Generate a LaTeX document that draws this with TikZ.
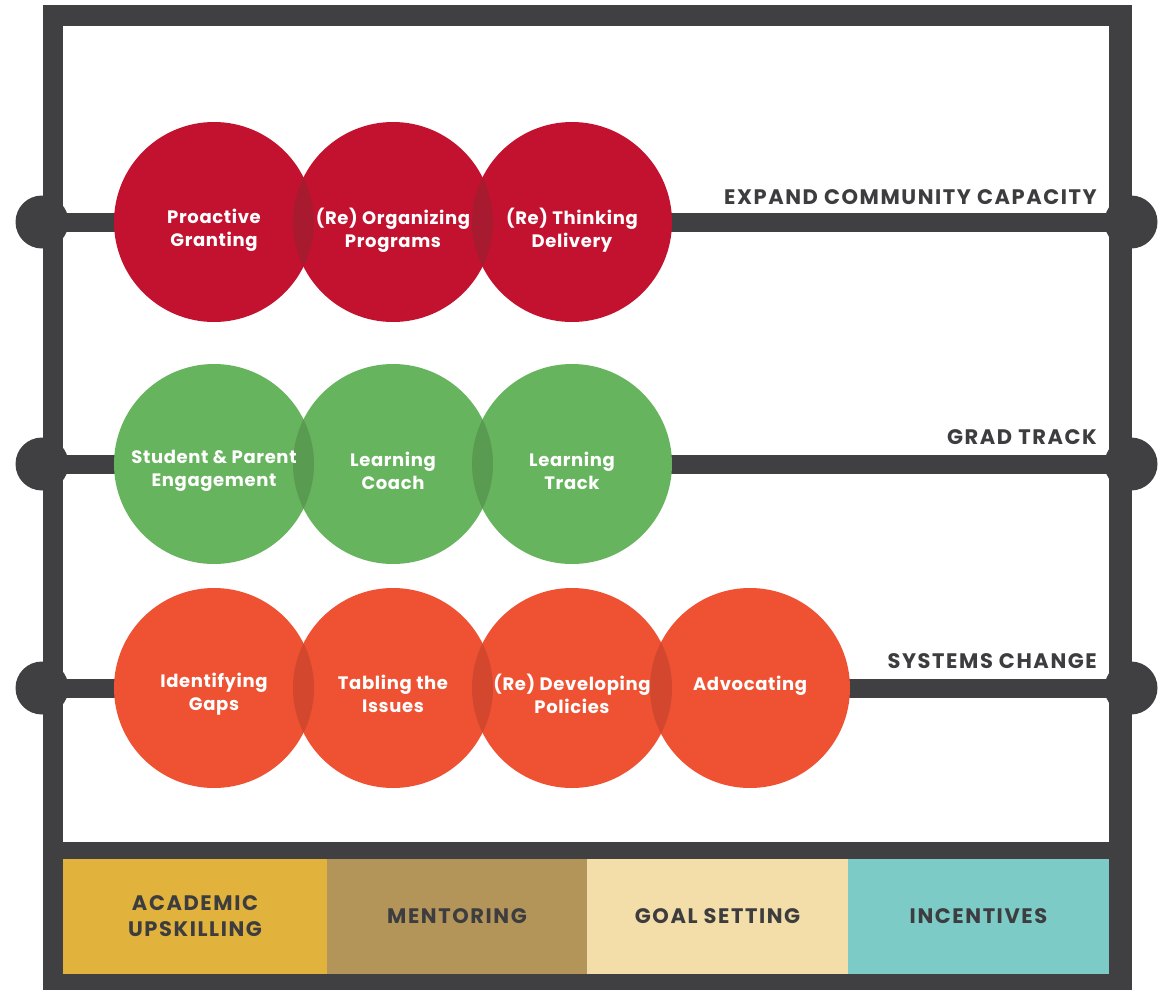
\documentclass[tikz,border=0pt]{standalone}
\usepackage{fontspec}
\setmainfont{Poppins}
\newfontfamily\labfont{Poppins}[LetterSpace=7.5]
\newfontfamily\beadfont{Poppins}[LetterSpace=3.5]
\definecolor{framec}{HTML}{404042}
\definecolor{txt}{HTML}{3D3D40}
\definecolor{redc}{HTML}{C3122F}
\definecolor{redd}{HTML}{A81A2F}
\definecolor{greenc}{HTML}{67B45E}
\definecolor{greend}{HTML}{599C51}
\definecolor{orangec}{HTML}{EF5233}
\definecolor{oranged}{HTML}{D2472E}
\definecolor{goldc}{HTML}{E2B33C}
\definecolor{tanc}{HTML}{B3955A}
\definecolor{creamc}{HTML}{F3DDA9}
\definecolor{tealc}{HTML}{7CCBC6}
\tikzset{
  rod/.style={framec, line width=19pt},
  knob/.style={fill=framec},
  bead/.style={circle, minimum size=200pt, inner sep=0pt, draw=none},
  beadtext/.style={text=white, font=\beadfont\fontsize{18}{23}\selectfont\bfseries, align=center},
  rowlabel/.style={text=txt, font=\labfont\fontsize{21}{25}\selectfont\bfseries, anchor=base east, inner sep=0pt},
  boxc/.style={minimum height=115pt, inner sep=0pt, text=txt, align=center, font=\labfont\fontsize{21}{26}\selectfont\bfseries},
}
\newcommand{\lens}[3]{\begin{scope}\clip (#1) circle (100pt);\fill[#3] (#2) circle (100pt);\end{scope}}
\begin{document}
\begin{tikzpicture}[x=1pt,y=-1pt]
\useasboundingbox (0,0) rectangle (1159,990);
% frame
\fill[framec] (43,5) rectangle (1132,990);
\fill[white] (63,26) rectangle (1109,842);
% bottom boxes
\node[boxc, fill=goldc, minimum width=264pt] (b1) at (195,916.5) {ACADEMIC\\UPSKILLING};
\node[boxc, fill=tanc, minimum width=260pt] (b2) at (457,916.5) {MENTORING};
\node[boxc, fill=creamc, minimum width=261pt] (b3) at (717.5,916.5) {GOAL SETTING};
\node[boxc, fill=tealc, minimum width=261pt] (b4) at (978.5,916.5) {INCENTIVES};
% rods
\foreach \n/\y in {1/222, 2/464, 3/688} {
  \coordinate (L\n) at (42,\y);
  \coordinate (R\n) at (1131,\y);
  \fill[knob] (L\n) circle (26.5pt);
  \fill[knob] (R\n) circle (26.5pt);
  \draw[rod] (L\n) -- (R\n);
}
\fill[framec] (43,26) rectangle (63,842);
\fill[framec] (1109,26) rectangle (1132,842);
% row labels
\node[rowlabel] (t1) at (1097,204) {EXPAND COMMUNITY CAPACITY};
\node[rowlabel] (t2) at (1097,444) {GRAD TRACK};
\node[rowlabel] (t3) at (1097,668) {SYSTEMS CHANGE};
% row 1
\node[bead, fill=redc] (a1) at (214,222) {};
\node[bead, fill=redc] (a2) at (393,222) {};
\node[bead, fill=redc] (a3) at (572,222) {};
\lens{a1}{a2}{redd}
\lens{a2}{a3}{redd}
\node[beadtext] at ([yshift=-8pt]a1) {Proactive\\Granting};
\node[beadtext] at ([yshift=-8pt]a2) {(Re) Organizing\\Programs};
\node[beadtext] at ([yshift=-8pt]a3) {(Re) Thinking\\Delivery};
% row 2
\node[bead, fill=greenc] (g1) at (214,464) {};
\node[bead, fill=greenc] (g2) at (393,464) {};
\node[bead, fill=greenc] (g3) at (572,464) {};
\lens{g1}{g2}{greend}
\lens{g2}{g3}{greend}
\node[beadtext] at ([yshift=-7pt]g1) {Student \& Parent\\Engagement};
\node[beadtext] at ([yshift=-7pt]g2) {Learning\\Coach};
\node[beadtext] at ([yshift=-7pt]g3) {Learning\\Track};
% row 3
\node[bead, fill=orangec] (o1) at (214,688) {};
\node[bead, fill=orangec] (o2) at (393,688) {};
\node[bead, fill=orangec] (o3) at (572,688) {};
\node[bead, fill=orangec] (o4) at (750,688) {};
\lens{o1}{o2}{oranged}
\lens{o2}{o3}{oranged}
\lens{o3}{o4}{oranged}
\node[beadtext] at ([yshift=-6pt]o1) {Identifying\\Gaps};
\node[beadtext] at ([yshift=-6pt]o2) {Tabling the\\Issues};
\node[beadtext] at ([yshift=-6pt]o3) {(Re) Developing\\Policies};
\node[beadtext] at ([yshift=2pt]o4) {Advocating};
\end{tikzpicture}
\end{document}
